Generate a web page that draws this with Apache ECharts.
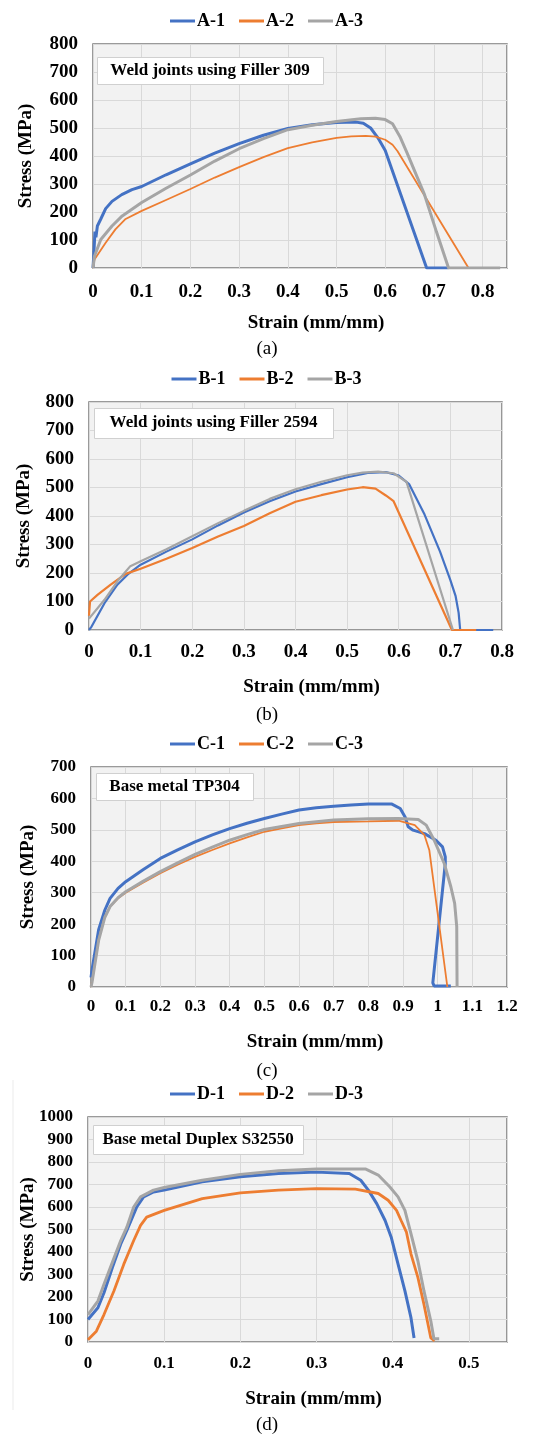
<!DOCTYPE html>
<html>
<head>
<meta charset="utf-8">
<style>html,body{margin:0;padding:0;background:#fff;}#c{width:533px;height:1434px;}</style>
<script src="https://cdn.jsdelivr.net/npm/echarts@6/dist/echarts.min.js"></script>
</head>
<body>
<div id="c"></div>
<script>
// ---------- data ----------
const namesA = ['A-1', 'A-2', 'A-3'];
const namesB = ['B-1', 'B-2', 'B-3'];
const namesC = ['C-1', 'C-2', 'C-3'];
const namesD = ['D-1', 'D-2', 'D-3'];
const panelTitles = ['Weld joints using Filler 309', 'Weld joints using Filler 2594', 'Base metal TP304', 'Base metal Duplex S32550'];
const captions = ['(a)', '(b)', '(c)', '(d)'];
const xMax = [0.85, 0.8, 1.2, 0.55];
const yMax = [800, 800, 700, 1000];
const xName = 'Strain (mm/mm)';
const yName = 'Stress (MPa)';

const a1 = [[0,0],[0.002,60],[0.004,130],[0.006,110],[0.009,150],[0.016,175],[0.026,212],[0.039,238],[0.059,262],[0.08,280],[0.1,291],[0.15,333],[0.2,372],[0.25,410],[0.3,444],[0.35,474],[0.4,498],[0.45,512],[0.5,520],[0.54,521],[0.555,517],[0.57,500],[0.585,465],[0.6,420],[0.685,0],[0.73,0]];
const a2 = [[0,0],[0.003,30],[0.026,90],[0.046,138],[0.066,174],[0.1,204],[0.15,243],[0.2,282],[0.25,323],[0.3,360],[0.35,396],[0.4,428],[0.45,449],[0.5,465],[0.53,470],[0.56,472],[0.58,469],[0.6,458],[0.615,440],[0.625,418],[0.771,0]];
const a3 = [[0,0],[0.003,42],[0.016,102],[0.039,150],[0.06,186],[0.1,234],[0.15,285],[0.2,332],[0.25,382],[0.3,426],[0.35,462],[0.4,494],[0.45,510],[0.5,523],[0.55,533],[0.58,535],[0.6,530],[0.615,515],[0.63,470],[0.645,410],[0.68,265],[0.705,130],[0.73,0],[0.836,0]];

const b1 = [[0,0],[0.005,12],[0.03,94],[0.055,159],[0.075,195],[0.1,229],[0.15,275],[0.2,318],[0.25,367],[0.3,412],[0.35,452],[0.4,486],[0.45,512],[0.5,536],[0.54,551],[0.575,554],[0.6,542],[0.62,512],[0.65,405],[0.68,275],[0.7,175],[0.71,120],[0.716,60],[0.719,0],[0.783,0]];
const b2 = [[0,50],[0.002,100],[0.017,124],[0.042,159],[0.071,197],[0.1,215],[0.15,250],[0.2,288],[0.25,328],[0.3,365],[0.35,410],[0.4,450],[0.45,473],[0.5,493],[0.53,501],[0.555,496],[0.575,472],[0.59,452],[0.703,0],[0.75,0]];
const b3 = [[0,40],[0.03,106],[0.055,171],[0.08,224],[0.1,241],[0.15,283],[0.2,329],[0.25,375],[0.3,418],[0.35,460],[0.4,494],[0.45,520],[0.5,543],[0.53,552],[0.56,556],[0.59,550],[0.615,520],[0.705,0]];

const c1 = [[0,30],[0.003,55],[0.022,182],[0.04,245],[0.055,282],[0.078,314],[0.1,335],[0.15,373],[0.2,409],[0.25,436],[0.3,462],[0.35,484],[0.4,504],[0.45,521],[0.5,536],[0.55,550],[0.6,563],[0.65,570],[0.7,575],[0.75,579],[0.8,582],[0.868,582],[0.892,568],[0.906,541],[0.915,510],[0.929,499],[0.962,488],[0.995,467],[1.014,446],[1.022,414],[1.022,393],[0.986,13],[0.99,3],[1.038,3]];
const c2 = [[0,0],[0.003,18],[0.022,150],[0.04,224],[0.055,256],[0.078,282],[0.1,300],[0.15,332],[0.2,362],[0.25,389],[0.3,414],[0.35,436],[0.4,457],[0.45,476],[0.5,494],[0.55,505],[0.6,515],[0.65,521],[0.7,525],[0.8,527],[0.887,529],[0.934,515],[0.962,483],[0.976,435],[1.028,0]];
const c3 = [[0,0],[0.003,15],[0.022,148],[0.04,222],[0.055,256],[0.078,284],[0.1,303],[0.15,336],[0.2,367],[0.25,395],[0.3,422],[0.35,445],[0.4,467],[0.45,485],[0.5,501],[0.55,511],[0.6,520],[0.65,526],[0.7,531],[0.8,535],[0.887,536],[0.944,533],[0.967,515],[0.99,467],[1.019,393],[1.038,319],[1.049,266],[1.055,192],[1.056,0]];

const d1 = [[0,100],[0.013,152],[0.021,219],[0.032,331],[0.043,436],[0.051,496],[0.064,600],[0.073,645],[0.086,667],[0.1,675],[0.15,712],[0.2,734],[0.25,749],[0.3,755],[0.343,749],[0.358,719],[0.368,675],[0.379,615],[0.39,540],[0.398,466],[0.407,346],[0.416,227],[0.424,107],[0.428,18]];
const d2 = [[0,10],[0.011,48],[0.021,122],[0.034,227],[0.047,346],[0.06,451],[0.069,518],[0.077,555],[0.1,585],[0.15,637],[0.2,663],[0.25,675],[0.3,682],[0.351,679],[0.381,660],[0.394,630],[0.405,585],[0.411,540],[0.418,488],[0.424,391],[0.433,287],[0.441,167],[0.45,18],[0.455,5]];
const d3 = [[0,122],[0.013,182],[0.021,257],[0.032,354],[0.043,451],[0.051,510],[0.06,600],[0.069,645],[0.086,675],[0.1,687],[0.15,719],[0.2,745],[0.25,761],[0.3,769],[0.364,769],[0.381,742],[0.396,690],[0.407,645],[0.416,585],[0.424,481],[0.433,361],[0.441,227],[0.45,93],[0.454,15],[0.461,15]];

// ---------- styles / layout ----------
const colors = ['#4472C4', '#ED7D31', '#A5A5A5'];
const widths = [[3, 1.8, 3], [2.2, 2.2, 2.2], [3, 1.8, 3], [3, 2.8, 3]];
const FONT = '"Liberation Serif", "Times New Roman", serif';
const grids = [
  {left: 93, top: 44, width: 414, height: 224},
  {left: 89, top: 402, width: 413, height: 228},
  {left: 91, top: 767, width: 416, height: 220},
  {left: 88, top: 1117, width: 419, height: 225}
];
const tickFont = [19, 19, 17, 17];
const legendTop = [12, 370, 735, 1085];
const xNameGap = [46, 48, 46, 48];
const yNameGap = [57, 55, 53, 50];
const labelMarginX = [15, 13, 11, 13];
const boxes = [
  {x: 97, y: 57, w: 226, h: 27},
  {x: 94, y: 408, w: 239, h: 30},
  {x: 96, y: 773, w: 157, h: 27},
  {x: 93, y: 1125, w: 210, h: 29}
];
const captionY = [349, 715, 1071, 1425];

const allNames = [namesA, namesB, namesC, namesD];
const allData = [[a1, a2, a3], [b1, b2, b3], [c1, c2, c3], [d1, d2, d3]];

function fmtX(v) {
  const r = Math.round(v * 10) / 10;
  if (Math.abs(v - r) > 1e-9) return '';
  return String(r);
}

const option = {
  animation: false,
  backgroundColor: '#fff',
  grid: grids.map(g => Object.assign({show: true, backgroundColor: '#f2f2f2', borderColor: '#7a7a7a', borderWidth: 1.5}, g)),
  xAxis: grids.map((g, i) => ({
    type: 'value', gridIndex: i, min: 0, max: xMax[i], interval: 0.1,
    name: xName, nameLocation: 'middle', nameGap: xNameGap[i], nameMoveOverlap: false,
    nameTextStyle: {fontFamily: FONT, fontWeight: 'bold', fontSize: 19, color: '#000', padding: [0, 0, 0, 32]},
    axisLine: {show: false}, axisTick: {show: false},
    splitLine: {show: true, lineStyle: {color: '#d9d9d9', width: 1}},
    axisLabel: {formatter: fmtX, fontFamily: FONT, fontWeight: 'bold', fontSize: tickFont[i], color: '#000', margin: labelMarginX[i]}
  })),
  yAxis: grids.map((g, i) => ({
    type: 'value', gridIndex: i, min: 0, max: yMax[i], interval: 100,
    name: yName, nameLocation: 'middle', nameGap: yNameGap[i], nameMoveOverlap: false,
    nameTextStyle: {fontFamily: FONT, fontWeight: 'bold', fontSize: 19, color: '#000'},
    axisLine: {show: false}, axisTick: {show: false},
    splitLine: {show: true, lineStyle: {color: '#d9d9d9', width: 1}},
    axisLabel: {formatter: v => String(v), fontFamily: FONT, fontWeight: 'bold', fontSize: tickFont[i], color: '#000', margin: 15}
  })),
  legend: allNames.map((names, i) => ({
    data: names, top: legendTop[i], left: 'center', padding: 0,
    icon: 'rect', itemWidth: 25, itemHeight: 3, itemGap: 14,
    textStyle: {fontFamily: FONT, fontWeight: 'bold', fontSize: 18, color: '#000', padding: [0, 0, 0, -3]}
  })),
  series: [],
  graphic: []
};

allNames.forEach((names, i) => {
  names.forEach((n, j) => {
    option.series.push({
      name: n, type: 'line', xAxisIndex: i, yAxisIndex: i,
      data: allData[i][j], symbol: 'none', smooth: false,
      lineStyle: {color: colors[j], width: widths[i][j]},
      itemStyle: {color: colors[j]}
    });
  });
  const b = boxes[i];
  option.graphic.push({
    type: 'rect', left: b.x, top: b.y, z: 100,
    shape: {width: b.w, height: b.h},
    style: {fill: '#fff', stroke: '#d0d0d0', lineWidth: 1}
  });
  option.graphic.push({
    type: 'text', x: b.x + b.w / 2, y: b.y + b.h / 2, z: 101,
    style: {text: panelTitles[i], fill: '#000', font: 'bold 17px ' + FONT, align: 'center', verticalAlign: 'middle'}
  });
  option.graphic.push({
    type: 'text', x: 267, y: captionY[i], z: 101,
    style: {text: captions[i], fill: '#000', font: '19px ' + FONT, align: 'center', verticalAlign: 'middle'}
  });
});
option.graphic.push({
  type: 'line', z: 1, shape: {x1: 13, y1: 1080, x2: 13, y2: 1410},
  style: {stroke: '#ebebeb', lineWidth: 1}
});

const chart = echarts.init(document.getElementById('c'), null, {renderer: 'canvas'});
chart.setOption(option);
</script>
</body>
</html>
